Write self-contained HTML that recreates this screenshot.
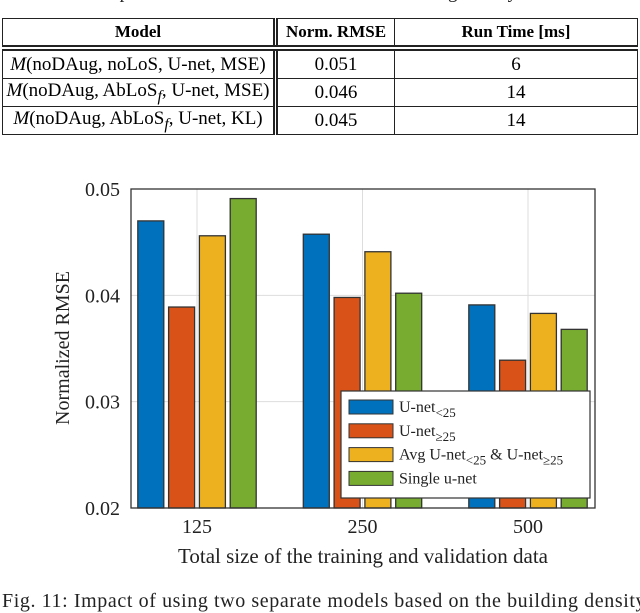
<!DOCTYPE html>
<html><head><meta charset="utf-8"><style>
body{margin:0;width:640px;height:600px;overflow:hidden;background:#fff;font-family:"Liberation Serif",serif;position:relative}
table{position:absolute;left:2px;top:18px;width:636px;border-collapse:collapse;font-size:19px;text-align:center}
td,th{border:1.5px solid #222;padding:0}
td{height:27px}
th{font-weight:bold;font-size:17px;height:26px}
.dbl{border-right:5px double #222}
tr.h th{border-bottom:6px double #222}
</style></head><body>
<div style="position:absolute;left:0;top:-18px;font-size:19px;color:#222">Table VII: Comparison of models with and without building density</div>
<table>
<tr class="h"><th class="dbl" style="width:270px">Model</th><th style="width:116px">Norm. RMSE</th><th>Run Time [ms]</th></tr>
<tr><td class="dbl"><i>M</i>(noDAug, noLoS, U-net, MSE)</td><td>0.051</td><td>6</td></tr>
<tr><td class="dbl"><i>M</i>(noDAug, AbLoS<sub><i>f</i></sub>, U-net, MSE)</td><td>0.046</td><td>14</td></tr>
<tr><td class="dbl"><i>M</i>(noDAug, AbLoS<sub><i>f</i></sub>, U-net, KL)</td><td>0.045</td><td>14</td></tr>
</table>
<svg id="chart" width="640" height="600" style="position:absolute;left:0;top:0" font-family="Liberation Serif, serif"></svg>
<div style="position:absolute;left:2px;top:590px;font-size:20px;letter-spacing:0.6px;color:#222;white-space:nowrap">Fig. 11: Impact of using two separate models based on the building density</div>
<script>
const categories=["125","250","500"];
const seriesNames=["U-net<25","U-net≥25","Avg","Single u-net"];
const uLess=[0.0470,0.04575,0.0391];
const uGe=[0.0389,0.0398,0.0339];
const avgU=[0.0456,0.0441,0.0383];
const single=[0.0491,0.0402,0.0368];
const yTicks=[0.02,0.03,0.04,0.05];
const yTickLabels=["0.02","0.03","0.04","0.05"];
const colors=["#0072BD","#D95319","#EDB120","#77AC30"];
const series=[uLess,uGe,avgU,single];
const svg=document.getElementById('chart');const NS='http://www.w3.org/2000/svg';
const L=131,R=595,T=189,B=508;
const y=v=>B-(v-0.02)/(0.05-0.02)*(B-T);
const x=i=>197+165.5*i;
function mk(tag,a,p){const e=document.createElementNS(NS,tag);for(const k in a)e.setAttribute(k,a[k]);(p||svg).appendChild(e);return e;}
yTicks.forEach((t,i)=>{
 const g=mk('line',{x1:L,x2:R,y1:y(t),y2:y(t),stroke:'#ddd','stroke-width':1});
 
 
 const tx=mk('text',{x:120,y:y(t)+7,'text-anchor':'end','font-size':20,fill:'#222'});tx.textContent=yTickLabels[i];
 
 
});
categories.forEach((c,i)=>{
 const g=mk('line',{x1:x(i),x2:x(i),y1:T,y2:B,stroke:'#ddd','stroke-width':1});
 
 
 const tx=mk('text',{x:x(i),y:533,'text-anchor':'middle','font-size':20,fill:'#222'});tx.textContent=c;
 
 
});
series.forEach((s,j)=>{s.forEach((v,i)=>{
 const cx=x(i)+(j-1.5)*30.8;
 const r=mk('rect',{x:cx-13,y:y(v),width:26,height:B-y(v),fill:colors[j],stroke:'#333','stroke-width':1.3});
 
 
});});
const ax=mk('rect',{x:L,y:T,width:R-L,height:B-T,fill:'none',stroke:'#333','stroke-width':1.3});


const xt=mk('text',{x:363,y:563,'text-anchor':'middle','font-size':21,fill:'#222'});xt.textContent='Total size of the training and validation data';


const yt=mk('text',{x:0,y:0,'text-anchor':'middle','font-size':20,fill:'#222',transform:'translate(69,348) rotate(-90)'});yt.textContent='Normalized RMSE';


const lg=mk('g',{});


mk('rect',{x:341,y:391,width:249,height:107,fill:'#fff',stroke:'#333','stroke-width':1.2},lg);
const labels=[['U-net','<25',''],['U-net','≥25',''],['Avg U-net','<25',' & U-net','≥25'],['Single u-net']];
labels.forEach((lb,k)=>{
 const cy=407+23.8*k;
 const p=mk('rect',{x:349,y:cy-7,width:44,height:14,fill:colors[k],stroke:'#333','stroke-width':1},lg);
 
 
 const t=mk('text',{x:399,y:cy+5,'font-size':16,fill:'#222'},lg);
 
 
 lb.forEach((part,m)=>{const ts=mk('tspan',{},t);ts.textContent=part;
  if(m%2==1){ts.setAttribute('dy','5');ts.setAttribute('font-size','13');}
  else if(m>0){ts.setAttribute('dy','-5');}
 });
});
</script>
</body></html>
